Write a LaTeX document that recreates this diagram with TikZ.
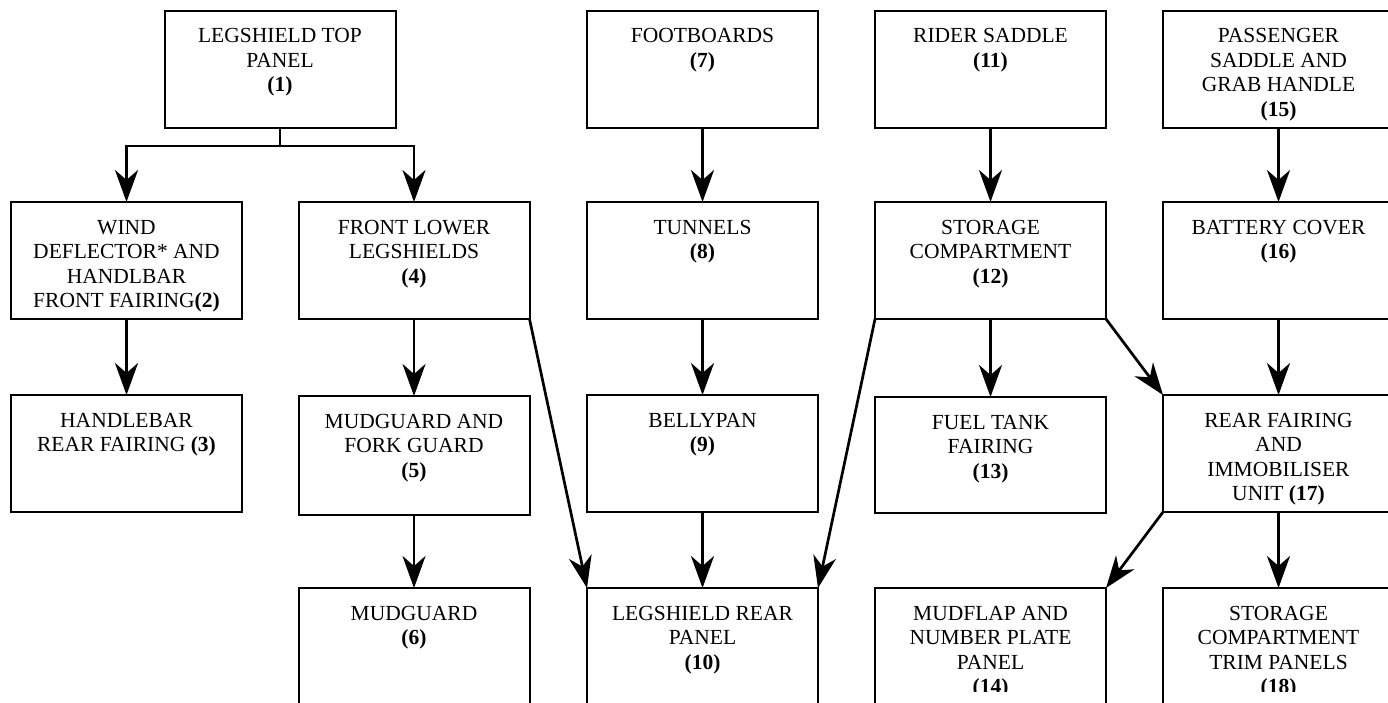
\documentclass[tikz,border=0pt]{standalone}
\usepackage{fontspec}
\setmainfont{Liberation Serif}
\usetikzlibrary{arrows.meta}
\begin{document}
\begin{tikzpicture}[x=1pt,y=-1pt,
  box/.style={draw, line width=2pt, minimum width=231pt, minimum height=117pt, inner sep=0pt, outer sep=0pt},
  lbl/.style={anchor=north, align=center, inner sep=0pt, font=\fontsize{21.5}{24.5}\selectfont, execute at begin node=\rule{0pt}{16pt}},
  conn/.style={line width=2.7pt},
  arr/.style={conn, -{Stealth[length=32pt,width=23pt,inset=10pt]}}]
\useasboundingbox (0,0) rectangle (1388,702);
\clip (0,0) rectangle (1388,702);
% boxes
\node[box] (b1) at (280,69) {};
\node[box] (b2) at (126.5,260.5) {};
\node[box] (b3) at (126.5,453.5) {};
\node[box] (b4) at (414,260.5) {};
\node[box, minimum height=119pt] (b5) at (414,455.5) {};
\node[box] (b6) at (414,646.5) {};
\node[box] (b7) at (702.5,69) {};
\node[box] (b8) at (702.5,260.5) {};
\node[box] (b9) at (702.5,453.5) {};
\node[box] (b10) at (702.5,646.5) {};
\node[box] (b11) at (990.5,69) {};
\node[box] (b12) at (990.5,260.5) {};
\node[box, minimum height=116pt] (b13) at (990.5,455) {};
\node[box] (b14) at (990.5,646.5) {};
\node[box] (b15) at (1278.5,69) {};
\node[box] (b16) at (1278.5,260.5) {};
\node[box] (b17) at (1278.5,453.5) {};
\node[box] (b18) at (1278.5,646.5) {};
% labels
\node[lbl] (t1) at ([yshift=-18pt]b1.north) {LEGSHIELD TOP\\PANEL\\\textbf{(1)}};
\node[lbl] (t2) at ([yshift=-18pt]b2.north) {WIND\\DEFLECTOR* AND\\HANDLBAR\\FRONT FAIRING\textbf{(2)}};
\node[lbl] (t3) at ([yshift=-18pt]b3.north) {HANDLEBAR\\REAR FAIRING \textbf{(3)}};
\node[lbl] (t4) at ([yshift=-18pt]b4.north) {FRONT LOWER\\LEGSHIELDS\\\textbf{(4)}};
\node[lbl] (t5) at ([yshift=-18pt]b5.north) {MUDGUARD AND\\FORK GUARD\\\textbf{(5)}};
\node[lbl] (t6) at ([yshift=-18pt]b6.north) {MUDGUARD\\\textbf{(6)}};
\node[lbl] (t7) at ([yshift=-18pt]b7.north) {FOOTBOARDS\\\textbf{(7)}};
\node[lbl] (t8) at ([yshift=-18pt]b8.north) {TUNNELS\\\textbf{(8)}};
\node[lbl] (t9) at ([yshift=-18pt]b9.north) {BELLYPAN\\\textbf{(9)}};
\node[lbl] (t10) at ([yshift=-18pt]b10.north) {LEGSHIELD REAR\\PANEL\\\textbf{(10)}};
\node[lbl] (t11) at ([yshift=-18pt]b11.north) {RIDER SADDLE\\\textbf{(11)}};
\node[lbl] (t12) at ([yshift=-18pt]b12.north) {STORAGE\\COMPARTMENT\\\textbf{(12)}};
\node[lbl] (t13) at ([yshift=-18pt]b13.north) {FUEL TANK\\FAIRING\\\textbf{(13)}};
\node[lbl] (t15) at ([yshift=-18pt]b15.north) {PASSENGER\\SADDLE AND\\GRAB HANDLE\\\textbf{(15)}};
\node[lbl] (t16) at ([yshift=-18pt]b16.north) {BATTERY COVER\\\textbf{(16)}};
\node[lbl] (t17) at ([yshift=-18pt]b17.north) {REAR FAIRING\\AND\\IMMOBILISER\\UNIT \textbf{(17)}};
\begin{scope}
\clip (860,570) rectangle (1388,691);
\node[lbl] (t14) at ([yshift=-18pt]b14.north) {MUDFLAP AND\\NUMBER PLATE\\PANEL\\\textbf{(14)}};
\node[lbl] (t18) at ([yshift=-18pt]b18.north) {STORAGE\\COMPARTMENT\\TRIM PANELS\\\textbf{(18)}};
\end{scope}
% connectors
\coordinate (j1) at (280,146);
\draw[conn] (b1.south) -- (j1);
\draw[arr] (j1) -| (b2.north);
\draw[arr] (j1) -| (b4.north);
\draw[arr] (b2.south) -- (b3.north);
\draw[arr] (b4.south) -- (b5.north);
\draw[arr] (b5.south) -- (b6.north);
\draw[arr] (b4.south east) -- (b10.north west);
\draw[arr] (b7.south) -- (b8.north);
\draw[arr] (b8.south) -- (b9.north);
\draw[arr] (b9.south) -- (b10.north);
\draw[arr] (b12.south west) -- (b10.north east);
\draw[arr] (b11.south) -- (b12.north);
\draw[arr] (b12.south) -- (b13.north);
\draw[arr] (b12.south east) -- (b17.north west);
\draw[arr] (b15.south) -- (b16.north);
\draw[arr] (b16.south) -- (b17.north);
\draw[arr] (b17.south) -- (b18.north);
\draw[arr] (b17.south west) -- (b14.north east);
\end{tikzpicture}
\end{document}
